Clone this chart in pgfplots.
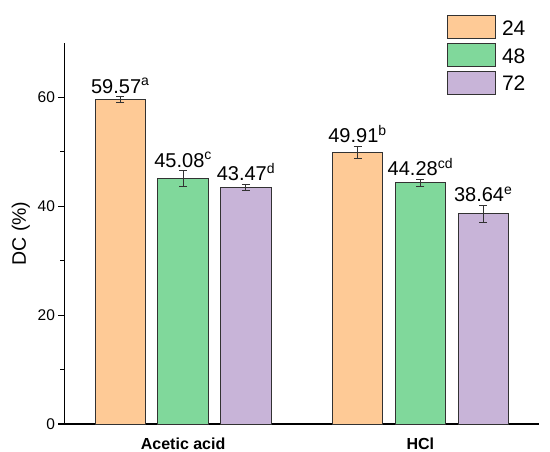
\documentclass[border=0pt]{standalone}
\usepackage{fontspec}
\setmainfont{Liberation Sans}
\usepackage{pgfplots}
\pgfplotsset{compat=1.18}
\definecolor{c24}{RGB}{254,202,150}
\definecolor{c48}{RGB}{128,216,155}
\definecolor{c72}{RGB}{200,180,216}
\definecolor{edge}{RGB}{50,50,50}
\begin{document}
\begin{tikzpicture}
\begin{axis}[
  width=474.5pt, height=381pt, scale only axis,
  xmin=-0.5, xmax=1.5, ymin=0, ymax=70,
  axis x line*=bottom, axis y line*=left,
  axis line style={line width=1.3pt, -, black},
  xtick={0,1}, xticklabels={Acetic acid, HCl},
  x tick style={draw=none},
  xticklabel style={font=\fontsize{16}{16}\selectfont\bfseries, anchor=base, yshift=-19pt, inner sep=0pt},
  ytick={0,20,40,60}, minor ytick={10,30,50},
  tick align=outside, major tick length=6pt, minor tick length=4pt,
  y tick style={line width=1.2pt, black},
  yticklabel style={font=\fontsize{15.5}{16}\selectfont},
  /pgf/number format/assume math mode=true,
  ylabel={DC (\%)},
  every axis y label/.style={at={(rel axis cs:0,0.5)}, xshift=-34.5pt, anchor=south, rotate=90, inner sep=0pt, font=\fontsize{19.5}{20}\selectfont},
  legend style={at={(rel axis cs:0.8055,1.0735)}, anchor=north west, draw=none, fill=none, inner sep=0pt, row sep=3.7pt, column sep=6.5pt, font=\fontsize{21}{21}\selectfont, nodes={inner sep=0pt, text depth=0pt, anchor=base west}},
  legend image code/.code={\draw[#1] (0pt,-3.3pt) rectangle (47.6pt,19.7pt);},
  clip=false,
]
\coordinate (O) at (rel axis cs:0,0);
\addplot[ybar, bar shift=0pt, bar width=0.212, fill=c24, draw=edge, line width=1pt,
  error bars/.cd, y dir=both, y explicit, error bar style={line width=1pt, color=edge}, error mark options={rotate=90, line width=1pt, mark size=4pt, color=edge}]
  coordinates {(-0.265,59.57) +- (0,0.55) (0.735,49.91) +- (0,1.08)};
\addlegendentry{24}
\addplot[ybar, bar shift=0pt, bar width=0.212, fill=c48, draw=edge, line width=1pt,
  error bars/.cd, y dir=both, y explicit, error bar style={line width=1pt, color=edge}, error mark options={rotate=90, line width=1pt, mark size=4pt, color=edge}]
  coordinates {(0,45.08) +- (0,1.45) (1,44.28) +- (0,0.68)};
\addlegendentry{48}
\addplot[ybar, bar shift=0pt, bar width=0.212, fill=c72, draw=edge, line width=1pt,
  error bars/.cd, y dir=both, y explicit, error bar style={line width=1pt, color=edge}, error mark options={rotate=90, line width=1pt, mark size=4pt, color=edge}]
  coordinates {(0.265,43.47) +- (0,0.55) (1.265,38.64) +- (0,1.57)};
\addlegendentry{72}
\addplot[forget plot, only marks, mark=*, mark size=0pt, mark options={draw=none, fill=none},
  nodes near coords, point meta=explicit symbolic,
  nodes near coords style={anchor=base, yshift=3.5pt, inner sep=0pt, font=\fontsize{20}{20}\selectfont, text=black}]
  coordinates {
    (-0.265,60.12) [59.57\textsuperscript{a}]
    (0,46.53) [45.08\textsuperscript{c}]
    (0.265,44.02) [43.47\textsuperscript{d}]
    (0.735,50.99) [49.91\textsuperscript{b}]
    (1,44.96) [44.28\textsuperscript{cd}]
    (1.265,40.21) [38.64\textsuperscript{e}]
  };
\end{axis}
\pgfresetboundingbox
\path[use as bounding box] ([shift={(-64.5pt,-27pt)}]O) rectangle ([shift={(485.5pt,424pt)}]O);
\end{tikzpicture}
\end{document}
